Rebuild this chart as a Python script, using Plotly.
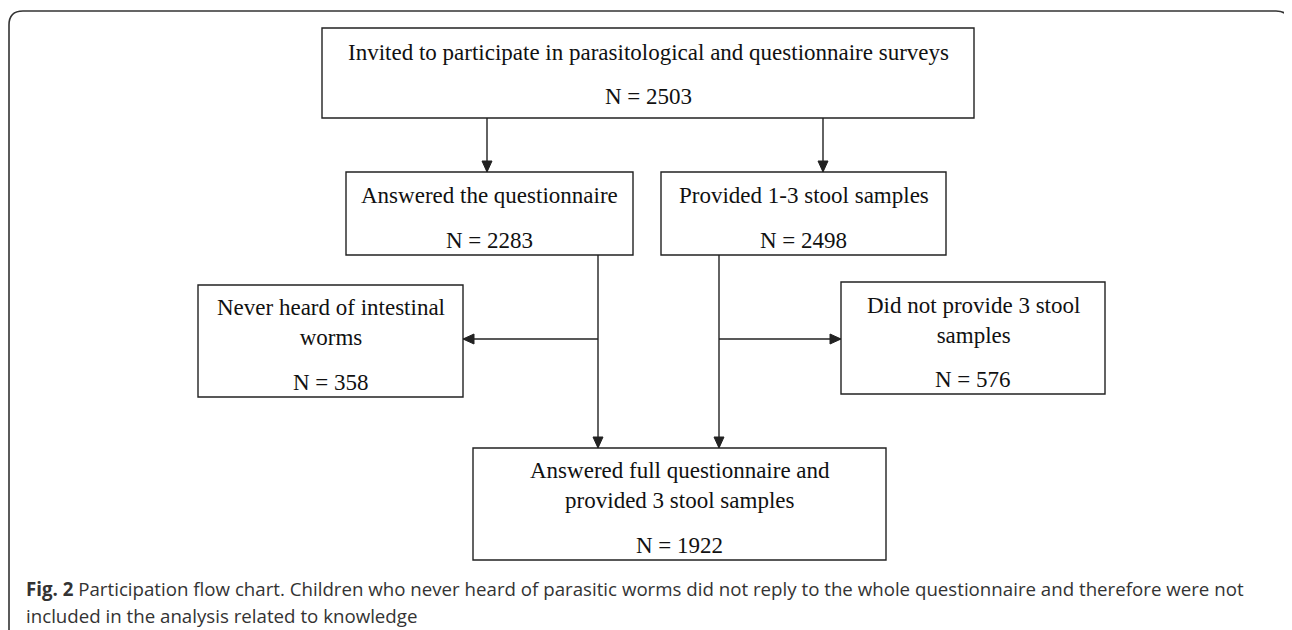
import plotly.graph_objects as go

# ---- data ----
box_titles = [
    "Invited to participate in parasitological and questionnaire surveys",
    "Answered the questionnaire",
    "Provided 1-3 stool samples",
    "Never heard of intestinal<br>worms",
    "Did not provide 3 stool<br>samples",
    "Answered full questionnaire and<br>provided 3 stool samples",
]
box_counts = [2503, 2283, 2498, 358, 576, 1922]
caption_bold = "Fig. 2"
caption_line1 = " Participation flow chart. Children who never heard of parasitic worms did not reply to the whole questionnaire and therefore were not"
caption_line2 = "included in the analysis related to knowledge"

# ---- layout geometry (page pixels) ----
boxes = [  # x0, x1, y0, y1, title y, count y
    (322, 974, 28, 118, 52, 96),
    (346, 633, 172, 255, 195, 240),
    (661, 946, 172, 255, 195, 240),
    (198, 463, 285, 397, 322, 382),
    (841, 1105, 282, 394, 320, 379),
    (473, 886, 448, 560, 485, 545),
]
W, H = 1292, 630
OFF = 8  # page body margin
LC = "#222222"
FONT_SERIF = "Liberation Serif"
FS = 23

fig = go.Figure()
fig.add_trace(go.Scatter(x=[OFF, W], y=[OFF, H], mode="markers", marker=dict(opacity=0),
                         hoverinfo="skip", showlegend=False))

shapes = []
annotations = []

# outer rounded frame
r = 14
shapes.append(dict(type="path", xref="x", yref="y",
                   path=f"M 9,{H+20} L 9,{11+r} Q 9,11 {9+r},11 L {1290-r},11 Q 1290,11 1290,{11+r} L 1290,{H+20}",
                   line=dict(color="#333333", width=1.6)))

for (x0, x1, y0, y1, ty, cy), title, n in zip(boxes, box_titles, box_counts):
    shapes.append(dict(type="rect", xref="x", yref="y", x0=x0, x1=x1, y0=y0, y1=y1,
                       line=dict(color=LC, width=1.4), fillcolor="rgba(0,0,0,0)"))
    xc = (x0 + x1) / 2
    annotations.append(dict(x=xc, y=ty, xref="x", yref="y", text=title, showarrow=False,
                            font=dict(family=FONT_SERIF, size=FS, color="#111111"),
                            xanchor="center", yanchor="middle", align="center"))
    annotations.append(dict(x=xc, y=cy, xref="x", yref="y", text=f"N = {n}", showarrow=False,
                            font=dict(family=FONT_SERIF, size=FS, color="#111111"),
                            xanchor="center", yanchor="middle"))


def arrow(x0, y0, x1, y1):
    shapes.append(dict(type="line", xref="x", yref="y", x0=x0, y0=y0, x1=x1, y1=y1,
                       line=dict(color=LC, width=1.4)))
    L, hw = 11, 5
    if x0 == x1:
        d = 1 if y1 > y0 else -1
        p = f"M {x1},{y1} L {x1-hw},{y1-d*L} L {x1+hw},{y1-d*L} Z"
    else:
        d = 1 if x1 > x0 else -1
        p = f"M {x1},{y1} L {x1-d*L},{y1-hw} L {x1-d*L},{y1+hw} Z"
    shapes.append(dict(type="path", xref="x", yref="y", path=p, fillcolor=LC, line=dict(color=LC, width=1)))


def line(x0, y0, x1, y1):
    shapes.append(dict(type="line", xref="x", yref="y", x0=x0, y0=y0, x1=x1, y1=y1,
                       line=dict(color=LC, width=1.4)))


arrow(487, 118, 487, 172)
arrow(823, 118, 823, 172)
line(598, 255, 598, 339)
arrow(598, 339, 598, 448)
arrow(598, 339, 463, 339)
line(719, 255, 719, 339)
arrow(719, 339, 719, 448)
arrow(719, 339, 841, 339)

annotations.append(dict(x=24, y=588, xref="x", yref="y", showarrow=False, xanchor="left", yanchor="middle",
                        text=f"<b>{caption_bold}</b>{caption_line1}",
                        font=dict(family="Open Sans", size=18.7, color="#333333")))
annotations.append(dict(x=24, y=615, xref="x", yref="y", showarrow=False, xanchor="left", yanchor="middle",
                        text=caption_line2,
                        font=dict(family="Open Sans", size=18.7, color="#333333")))

fig.update_layout(width=W - OFF, height=H - OFF, margin=dict(l=0, r=0, t=0, b=0),
                  paper_bgcolor="white", plot_bgcolor="white",
                  xaxis=dict(range=[OFF, W], visible=False, fixedrange=True),
                  yaxis=dict(range=[H, OFF], visible=False, fixedrange=True),
                  shapes=shapes, annotations=annotations, showlegend=False)

fig.write_html("out.html", config={"displayModeBar": False})
